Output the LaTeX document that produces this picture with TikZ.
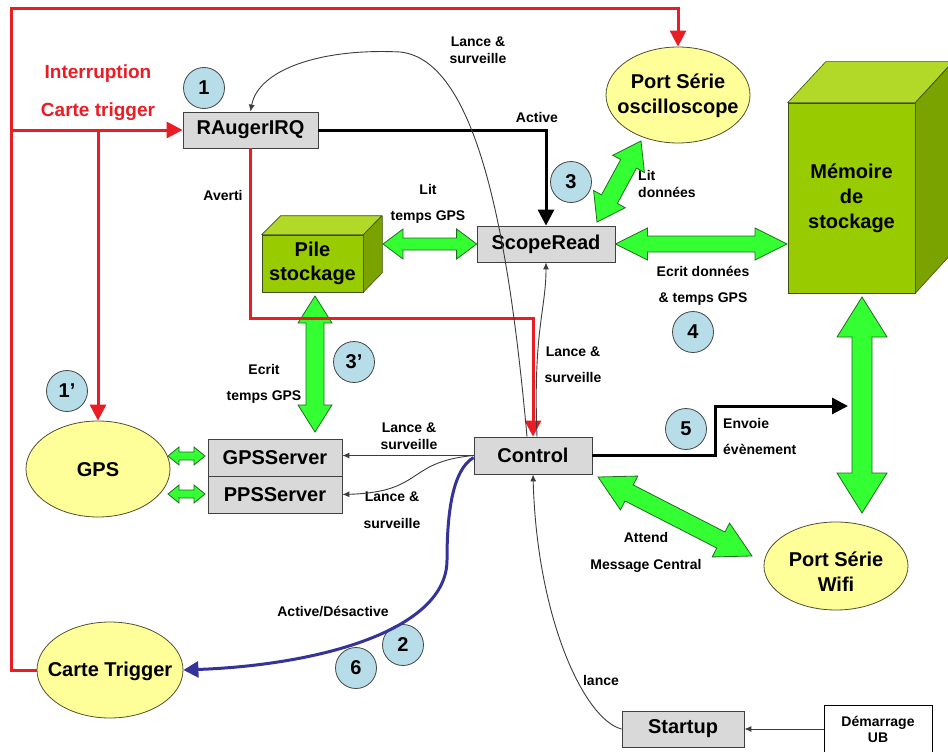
\documentclass[tikz,border=0pt]{standalone}
\usepackage{fontspec}
\setmainfont{Liberation Sans}
\usetikzlibrary{arrows.meta,calc,shapes.geometric}
\definecolor{myred}{RGB}{235,28,36}
\definecolor{myblue}{RGB}{51,51,153}
\definecolor{boxgray}{RGB}{217,217,217}
\definecolor{boxline}{RGB}{64,64,64}
\definecolor{ellfill}{RGB}{255,255,153}
\definecolor{ellline}{RGB}{80,80,50}
\definecolor{numfill}{RGB}{183,221,232}
\definecolor{numline}{RGB}{70,70,70}
\definecolor{cubef}{RGB}{153,204,0}
\definecolor{cubet}{RGB}{178,217,40}
\definecolor{cuber}{RGB}{122,163,0}
\definecolor{cubeline}{RGB}{60,80,20}
\definecolor{gfill}{RGB}{51,255,51}
\definecolor{gline}{RGB}{30,110,30}
\definecolor{thingray}{RGB}{60,60,60}
\tikzset{
 box/.style={draw=boxline, fill=boxgray, line width=0.8pt, inner sep=0, font=\fontsize{20}{24}\selectfont\bfseries},
 ell/.style={ellipse, draw=ellline, fill=ellfill, line width=0.8pt, inner sep=0},
 elltext/.style={inner sep=0, align=center, font=\fontsize{20}{25}\selectfont\bfseries},
 numc/.style={circle, draw=numline, fill=numfill, line width=0.8pt, minimum size=41pt, inner sep=0, font=\fontsize{20}{24}\selectfont\bfseries},
 cubefront/.style={draw=cubeline, fill=cubef, line width=0.6pt, inner sep=0, align=center},
 cubeface/.style={draw=cubeline, line width=0.6pt, line join=round},
 lab/.style={inner sep=0, align=center, font=\fontsize{14}{17}\selectfont\bfseries},
 redline/.style={draw=myred, line width=3pt},
 redarrow/.style={redline, -{Triangle[length=16pt,width=16pt]}},
 blkarrow/.style={draw=black, line width=3pt, -{Triangle[length=16pt,width=16pt]}},
 thinarrow/.style={draw=thingray, line width=0.9pt, -{Latex[length=7pt,width=6pt]}},
 bluearrow/.style={draw=myblue, line width=3pt, -{Triangle[length=15pt,width=16pt]}},
 garr/.style={fill=gfill, draw=gline, line width=0.8pt},
}
\newcommand\garrow[5]{%
\path[garr] (#1) -- ($(#1)!#5!(#2)!#4!90:(#2)$) -- ($(#1)!#5!(#2)!#3!90:(#2)$) -- ($(#2)!#5!(#1)!#3!-90:(#1)$) -- ($(#2)!#5!(#1)!#4!-90:(#1)$) -- (#2) -- ($(#2)!#5!(#1)!#4!90:(#1)$) -- ($(#2)!#5!(#1)!#3!90:(#1)$) -- ($(#1)!#5!(#2)!#3!-90:(#2)$) -- ($(#1)!#5!(#2)!#4!-90:(#2)$) -- cycle;}
\begin{document}
\begin{tikzpicture}[x=1pt,y=-1pt]
\useasboundingbox (0,0) rectangle (948,752);
\clip (0,0) rectangle (948,752);
\fill[white] (0,0) rectangle (948,752);

% boxes
\node[box, minimum width=135pt, minimum height=36pt] (raug) at (250.5,130) {RAugerIRQ};
\node[box, minimum width=138pt, minimum height=36pt] (scope) at (546,244) {ScopeRead};
\node[box, minimum width=134pt, minimum height=37pt] (gpss) at (275,457.5) {GPSServer};
\node[box, minimum width=134pt, minimum height=37pt] (ppss) at (275,494.5) {PPSServer};
\node[box, minimum width=118pt, minimum height=37pt] (control) at (533,455.5) {Control};
\node[box, minimum width=122pt, minimum height=36pt] (startup) at (683,729) {Startup};
\node[box, draw=black, fill=white, minimum width=108pt, minimum height=48pt, align=center, font=\fontsize{14}{16}\selectfont\bfseries] (dem) at (878,729) {Démarrage\\UB};

% ellipses
\node[ell, minimum width=144pt, minimum height=96pt] (osc) at (678,95) {};
\node[elltext] (osct) at (678,95.5) {Port Série\\oscilloscope};
\node[ell, minimum width=144pt, minimum height=96pt] (gps) at (98,469) {};
\node[elltext] (gpst) at (98,470) {GPS};
\node[ell, minimum width=146pt, minimum height=96pt] (trig) at (110,670) {};
\node[elltext] (trigt) at (110,671) {Carte Trigger};
\node[ell, minimum width=144pt, minimum height=88pt] (wifi) at (836,566) {};
\node[elltext] (wifit) at (836,572) {Port Série\\Wifi};

% cubes
\node[cubefront, minimum width=127pt, minimum height=190pt, font=\fontsize{20}{25}\selectfont\bfseries] (mem) at (851.5,198) {Mémoire\\de\\stockage};
\path[cubeface, fill=cubet] (mem.north west) -- ++(38,-41) -- ++(127,0) -- (mem.north east) -- cycle;
\path[cubeface, fill=cuber] (mem.north east) -- ++(38,-41) -- ++(0,190) -- (mem.south east) -- cycle;
\node[cubefront, minimum width=101pt, minimum height=57pt, font=\fontsize{20}{24}\selectfont\bfseries] (pile) at (312.5,263.5) {Pile\\stockage};
\path[cubeface, fill=cubet] (pile.north west) -- ++(19,-19) -- ++(101,0) -- (pile.north east) -- cycle;
\path[cubeface, fill=cuber] (pile.north east) -- ++(19,-19) -- ++(0,57) -- (pile.south east) -- cycle;

% numbered circles
\node[numc] (n1) at (204,88) {1};
\node[numc] (n3) at (571,182) {3};
\node[numc] (n4) at (693,332) {4};
\node[numc] (n3p) at (354,362) {3’};
\node[numc] (n1p) at (67,391) {1’};
\node[numc] (n5) at (686,429) {5};
\node[numc] (n2) at (403,645) {2};
\node[numc] (n6) at (356,668) {6};

% labels
\node[lab] (lbl1) at (478,50.5) {Lance \&\\surveille};
\node[lab] (lbl2) at (537,117) {Active};
\node[lab] (lbl3) at (223,195) {Averti};
\node[lab, font=\fontsize{14}{26}\selectfont\bfseries] (lbl4) at (428,204) {Lit\\temps GPS};
\node[lab, align=left, anchor=west] (lbl5) at (638,184) {Lit\\données};
\node[lab, font=\fontsize{14}{26}\selectfont\bfseries] (lbl6) at (703,286) {Ecrit données\\\& temps GPS};
\node[lab, font=\fontsize{14}{26}\selectfont\bfseries] (lbl7) at (264,384) {Ecrit\\temps GPS};
\node[lab, font=\fontsize{14}{26}\selectfont\bfseries] (lbl8) at (573,365) {Lance \&\\surveille};
\node[lab] (lbl9) at (409,436.5) {Lance \&\\surveille};
\node[lab, font=\fontsize{14}{27}\selectfont\bfseries] (lbl10) at (392,510.5) {Lance \&\\surveille};
\node[lab, align=left, anchor=west, font=\fontsize{14}{26}\selectfont\bfseries] (lbl11) at (723,436) {Envoie\\évènement};
\node[lab, font=\fontsize{14}{27}\selectfont\bfseries] (lbl12) at (646,552) {Attend\\Message Central};
\node[lab] (lbl13) at (333,612) {Active/Désactive};
\node[lab] (lbl14) at (601,680) {lance};
\node[lab, text=myred, font=\fontsize{19}{38}\selectfont\bfseries] (lbl15) at (98,93) {Interruption\\Carte trigger};

% green double arrows
\coordinate (oscA) at (597,222); \coordinate (oscB) at (641,141);
\garrow{oscA}{oscB}{9pt}{18pt}{26pt}
\coordinate (psA) at (383,244);
\garrow{psA}{scope.west}{6pt}{15pt}{20pt}
\coordinate (smB) at (787,244);
\garrow{scope.east}{smB}{8pt}{16pt}{32pt}
\coordinate (pgA) at (315,296); \coordinate (pgB) at (315,432);
\garrow{pgA}{pgB}{9pt}{17pt}{27pt}
\coordinate (mwA) at (862,297); \coordinate (mwB) at (862,513);
\garrow{mwA}{mwB}{10pt}{25pt}{40pt}
\coordinate (cwA) at (598,477); \coordinate (cwB) at (752,556);
\garrow{cwA}{cwB}{9pt}{19pt}{35pt}
\coordinate (g1A) at (168,456); \coordinate (g1B) at (205,456);
\garrow{g1A}{g1B}{4pt}{9pt}{11pt}
\coordinate (g2A) at (168,494); \coordinate (g2B) at (205,494);
\garrow{g2A}{g2B}{4pt}{9pt}{11pt}

% red connectors
\coordinate (rTL) at (11,9);
\coordinate (rB) at (11,130);
\coordinate (rG) at (98,130);
\coordinate (rAv) at (533,318);
\draw[redarrow] (trig.west) -| (rTL) -| (osc.north);
\draw[redarrow] (rB) -- (raug.west);
\draw[redarrow] (rG) -- (gps.north);
\draw[redarrow] (raug.south) |- (rAv) -- (control.north);

% black connectors
\coordinate (bK) at (715,455.5);
\coordinate (bEv) at (848,406);
\draw[blkarrow] (raug.east) -| (scope.north);
\draw[blkarrow] (control.east) -- (bK) |- (bEv);

% thin connectors
\draw[thinarrow] ($(control.north)+(-6,0)$) .. controls (510,250) and (480,60) .. (400,52) .. controls (320,48) and (258,70) .. (raug.north);
\draw[thinarrow] ($(control.north)+(4,0)$) .. controls (533,330) and (546,310) .. (scope.south);
\draw[thinarrow] (control.west) -- (control.west -| gpss.east);
\draw[thinarrow] (control.west) .. controls (405,462) and (425,492) .. (ppss.east);
\draw[thinarrow] (startup.west) .. controls (585,720) and (537,620) .. (control.south);
\draw[thinarrow] (dem.west) -- (startup.east);

% blue connector
\draw[bluearrow] ($(control.west)+(0,2)$) .. controls (452,470) and (447,515) .. (447,560) .. controls (447,630) and (320,665) .. (trig.east);
\end{tikzpicture}
\end{document}
